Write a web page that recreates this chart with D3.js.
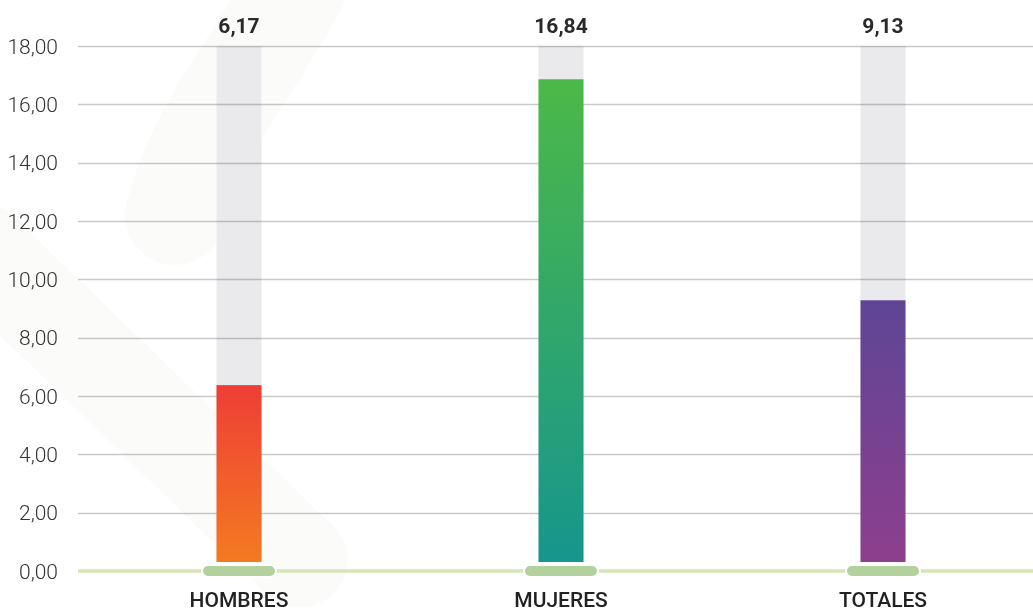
<!DOCTYPE html>
<html><head><meta charset="utf-8">
<script src="https://cdn.jsdelivr.net/npm/d3@7"></script>
<style>html,body{margin:0;padding:0;background:#fff;overflow:hidden}</style>
</head><body>
<svg id="c" width="1033" height="612"></svg>
<script>
const categories = ["HOMBRES", "MUJERES", "TOTALES"];
const values = [6.17, 16.84, 9.13];
const valueLabels = ["6,17", "16,84", "9,13"];
const yTicks = [0, 2, 4, 6, 8, 10, 12, 14, 16, 18];
const gradTop = ["#ee3e36", "#4cb848", "#5e4596"];
const gradBottom = ["#f47a21", "#16968d", "#8d3f8d"];

const svg = d3.select("#c");
const left = 78, right = 1033;
const y = d3.scaleLinear().domain([0, 18]).range([571, 46]);
const yBar = d3.scaleLinear().domain([0, 18]).range([562, 46]);
const x = d3.scaleBand().domain(categories).range([78, 1044]).padding(0);
const bw = 45;
const cx = c => x(c) + x.bandwidth() / 2;

const defs = svg.append("defs");
categories.forEach((c, i) => {
  const g = defs.append("linearGradient").attr("id", "g" + i)
    .attr("x1", 0).attr("y1", 0).attr("x2", 0).attr("y2", 1);
  g.append("stop").attr("offset", "0%").attr("stop-color", gradTop[i]);
  g.append("stop").attr("offset", "100%").attr("stop-color", gradBottom[i]);
});

// faint watermark
const wm = svg.append("g").attr("fill", "none").attr("stroke", "#fbfcf9").attr("stroke-linecap", "round");
wm.append("path").attr("d", "M-20,250 L300,560").attr("stroke-width", 95);
wm.append("path").attr("d", "M175,215 C200,120 260,60 300,-20").attr("stroke-width", 100);

// grey background bars
svg.append("g").selectAll("rect").data(categories).join("rect")
  .attr("x", c => cx(c) - bw / 2).attr("width", bw)
  .attr("y", yBar(18)).attr("height", yBar(0) - yBar(18))
  .attr("fill", "#eaeaed");

// gridlines
svg.append("g").selectAll("line").data(yTicks.filter(t => t > 0)).join("line")
  .attr("x1", left).attr("x2", right)
  .attr("y1", d => Math.round(y(d)) + 0.5).attr("y2", d => Math.round(y(d)) + 0.5)
  .attr("stroke", "#c9c9c9").attr("stroke-width", 1.5)
  .style("mix-blend-mode", "multiply");

// value bars
svg.append("g").selectAll("rect").data(categories).join("rect")
  .attr("x", c => cx(c) - bw / 2).attr("width", bw)
  .attr("y", (c, i) => yBar(values[i])).attr("height", (c, i) => yBar(0) - yBar(values[i]))
  .attr("fill", (c, i) => `url(#g${i})`);

// baseline
svg.append("line").attr("x1", left).attr("x2", right)
  .attr("y1", y(0)).attr("y2", y(0))
  .attr("stroke", "#d3e6b6").attr("stroke-width", 3.5);

// pills
svg.append("g").selectAll("rect").data(categories).join("rect")
  .attr("x", c => cx(c) - 37).attr("width", 74)
  .attr("y", y(0) - 6).attr("height", 12).attr("rx", 6)
  .attr("fill", "#b3d19c").attr("stroke", "#fff").attr("stroke-width", 2);

// y tick labels
svg.append("g").selectAll("text").data(yTicks).join("text")
  .attr("x", 58).attr("y", d => y(d) + 7.5)
  .attr("text-anchor", "end")
  .attr("font-family", "Roboto, sans-serif").attr("font-weight", 300)
  .attr("font-size", 21).attr("fill", "#333")
  .text(d => d3.format(".2f")(d).replace(".", ","));

// value labels
svg.append("g").selectAll("text").data(categories).join("text")
  .attr("x", c => cx(c)).attr("y", 33)
  .attr("text-anchor", "middle")
  .attr("font-family", "Roboto, sans-serif").attr("font-weight", 700)
  .attr("font-size", 21).attr("fill", "#2a2a2a")
  .text((c, i) => valueLabels[i]);

// category labels
svg.append("g").selectAll("text").data(categories).join("text")
  .attr("x", c => cx(c)).attr("y", 607)
  .attr("text-anchor", "middle")
  .attr("font-family", "Roboto, sans-serif").attr("font-weight", 500)
  .attr("font-size", 21).attr("fill", "#222")
  .text(c => c);
</script>
</body></html>
